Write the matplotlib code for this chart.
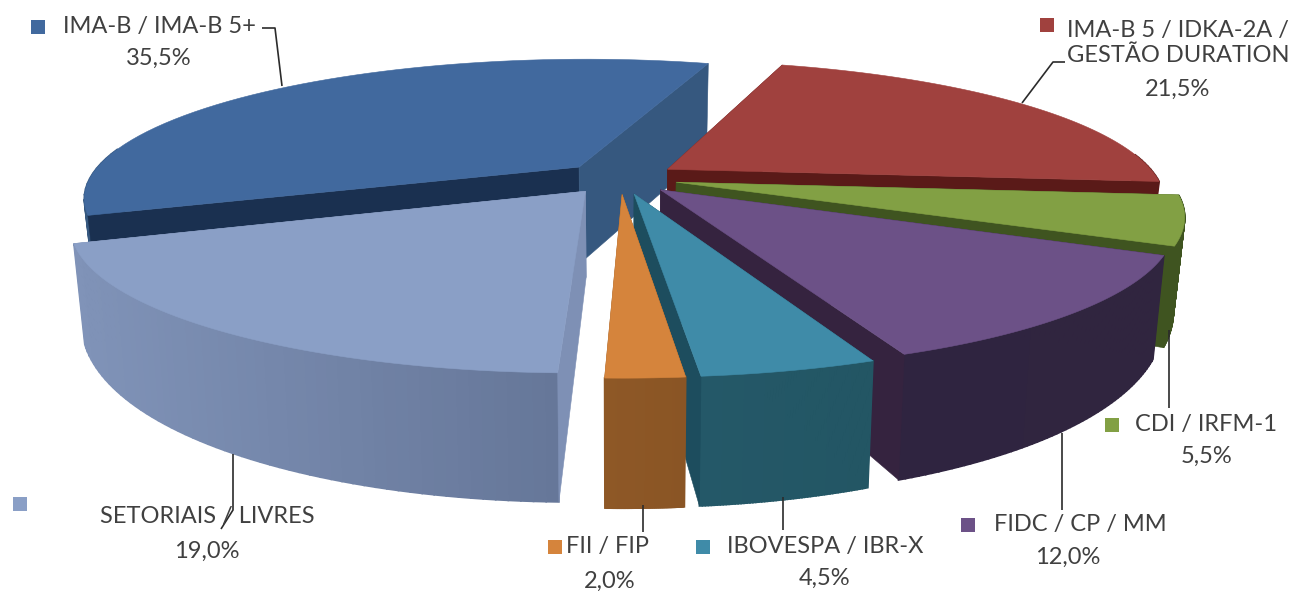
import numpy as np
import matplotlib
matplotlib.use("Agg")
import matplotlib.pyplot as plt
from matplotlib.patches import Polygon, Rectangle

# clockwise from the first slice
names = ["IMA-B / IMA-B 5+", "IMA-B 5 / IDKA-2A /\nGESTÃO DURATION", "CDI / IRFM-1",
         "FIDC / CP / MM", "IBOVESPA / IBR-X", "FII / FIP", "SETORIAIS / LIVRES"]
shares = [35.5, 21.5, 5.5, 12.0, 4.5, 2.0, 19.0]
share_text = ["35,5%", "21,5%", "5,5%", "12,0%", "4,5%", "2,0%", "19,0%"]

# colours: top, wall at start of slice, wall at end of slice, rim left, rim right
top_col = ["#41699e", "#a0413e", "#82a044", "#6c5187", "#3f8ba8", "#d5843c", "#8a9fc6"]
start_col = ["#1a3050", "#5a1a18", "#3f5420", "#35233f", "#1d4d5e", "#8e5826", "#7e90b5"]
end_col = ["#36587f", "#5a1a18", "#3f5420", "#35233f", "#1d4d5e", "#8e5826", "#7e90b5"]
rim_l = ["#36587f", "#5a1a18", "#3f5420", "#2f2440", "#245868", "#8e5826", "#8093b8"]
rim_r = ["#36587f", "#5a1a18", "#3f5420", "#30253f", "#235664", "#8a5525", "#667799"]

# layout of the pie on the canvas, in pixels
cx, cy = 620, 178
rx, ry = 490, 135.6
persp = 0.217
explode = 0.118
first_angle = 200.0
converge = 0.02


def project(u, v):
    w = 1 / (1 + persp * v)
    return cx + rx * u * w, cy - ry * v * w


def thick(v):
    return np.where(v >= 0, 97 - 7 * v, 82 - 43 * v)


def mix(c1, c2, t):
    a = np.array(matplotlib.colors.to_rgb(c1))
    b = np.array(matplotlib.colors.to_rgb(c2))
    return a + (b - a) * t


def wall(ax, u, v, color, z, lw=0.4):
    # quad hanging below a top edge given by two (u, v) points
    x, y = project(np.array(u), np.array(v))
    t = thick(np.array(v))
    xb = cx + (x - cx) * (1 - converge)
    pts = [(x[0], y[0]), (x[1], y[1]), (xb[1], y[1] + t[1]), (xb[0], y[0] + t[0])]
    ax.add_patch(Polygon(pts, closed=True, fc=color, ec=color, lw=lw, zorder=z))


def draw_slice(ax, i, a0, a1, z):
    mid = np.radians((a0 + a1) / 2)
    ou, ov = explode * np.cos(mid), explode * np.sin(mid)
    th = np.radians(np.linspace(a0, a1, 60))
    u = ou + np.cos(th)
    v = ov + np.sin(th)

    # start wall faces the viewer when cos < 0, end wall when cos > 0
    start_front = np.cos(th[0]) < 0
    end_front = np.cos(th[-1]) > 0
    if not start_front:
        wall(ax, [ou, u[0]], [ov, v[0]], start_col[i], z)
    if not end_front:
        wall(ax, [ou, u[-1]], [ov, v[-1]], end_col[i], z)

    x_all = project(u, v)[0]
    span = max(x_all.max() - x_all.min(), 1)
    for k in range(len(th) - 1):
        if np.sin(th[k]) + np.sin(th[k + 1]) > 0.25:
            continue
        t = (x_all[k] - x_all.min()) / span
        wall(ax, [u[k], u[k + 1]], [v[k], v[k + 1]], mix(rim_l[i], rim_r[i], t), z + 0.1, lw=1.2)

    if start_front:
        wall(ax, [ou, u[0]], [ov, v[0]], start_col[i], z + 0.15)
    if end_front:
        wall(ax, [ou, u[-1]], [ov, v[-1]], end_col[i], z + 0.15)

    xs, ys = project(np.r_[ou, u], np.r_[ov, v])
    ax.add_patch(Polygon(np.c_[xs, ys], closed=True, fc=top_col[i], ec=top_col[i], lw=0.4, zorder=z + 0.2))


fig = plt.figure(figsize=(12.94, 5.91), dpi=100)
ax = fig.add_axes([0, 0, 1, 1])
ax.set_xlim(0, 1294)
ax.set_ylim(591, 0)
ax.axis("off")

sweep = np.array(shares) / sum(shares) * 360
ends = first_angle - np.cumsum(sweep)
starts = ends + sweep
# back slices first
paint_order = [0, 1, 2, 3, 4, 6, 5]
for z, i in enumerate(paint_order):
    draw_slice(ax, i, starts[i], ends[i], z + 1)

# label anchors, leader lines and legend keys, in pixels
name_xy = [(159, 27), (1178, 43), (1206, 425), (1080, 525), (825, 547), (607, 547), (207, 517)]
pct_xy = [(159, 58), (1178, 89), (1207, 456), (1068, 557), (825, 578), (610, 581), (207, 551)]
key_xy = [(38, 27), (1047, 25), (1112, 425), (968, 525), (703, 547), (555, 547), (20, 504)]
leaders = [[(262, 28), (275, 28), (282, 86)],
           [(1065, 62), (1053, 62), (1022, 103)],
           [(1169, 330), (1169, 408)],
           [(1062, 433), (1062, 510)],
           [(783, 497), (783, 530)],
           [(643, 505), (643, 532)],
           [(233, 454), (233, 510), (221, 529)]]

for i, name in enumerate(names):
    lx, ly = zip(*leaders[i])
    ax.plot(lx, ly, color="#2b2b2b", lw=1.2, zorder=20, solid_capstyle="butt")
    kx, ky = key_xy[i]
    ax.add_patch(Rectangle((kx - 7, ky - 7), 14, 14, fc=top_col[i], ec="none", zorder=20))
    ax.text(name_xy[i][0], name_xy[i][1], name, family="Lato", fontsize=17, color="#404040",
            ha="center", va="center", linespacing=1.25, zorder=21)
    ax.text(pct_xy[i][0], pct_xy[i][1], share_text[i], family="Lato", fontsize=17, color="#404040",
            ha="center", va="center", zorder=21)

fig.savefig("out.png", dpi=100)
